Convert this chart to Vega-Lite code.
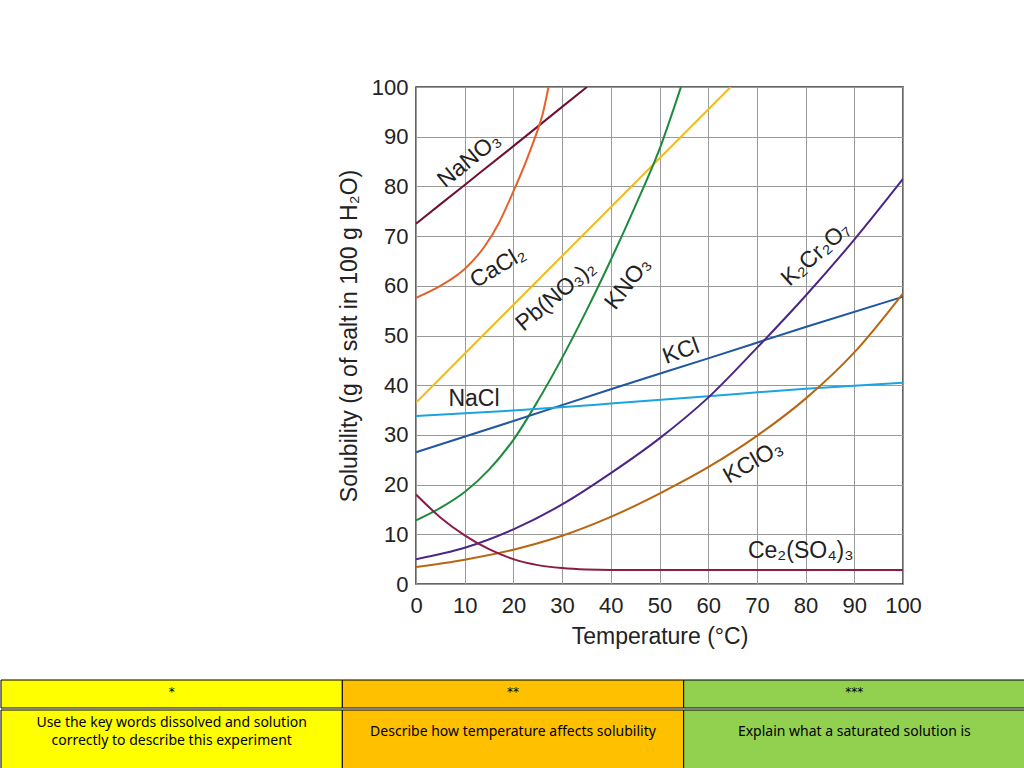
{
  "$schema": "https://vega.github.io/schema/vega-lite/v6.json",
  "background": "white",
  "padding": {"left": 0, "top": 75, "right": 0, "bottom": 0},
  "config": {"font": "Liberation Sans", "view": {"stroke": null}},
  "spacing": 30,
  "resolve": {"scale": {"color": "independent", "x": "independent", "y": "independent"}},
  "vconcat": [
    {
      "spacing": 0,
      "hconcat": [
        {
          "width": 336,
          "height": 10,
          "data": {"values": []},
          "mark": "point"
        },
        {
          "width": 487,
          "height": 497,
          "view": {"stroke": "#333", "strokeWidth": 1.5},
          "encoding": {
            "x": {
              "field": "t", "type": "quantitative",
              "scale": {"domain": [0, 100], "nice": false},
              "axis": {
                "values": [0, 10, 20, 30, 40, 50, 60, 70, 80, 90, 100],
                "grid": true, "gridColor": "#999", "gridWidth": 1,
                "ticks": false, "domain": false,
                "labelFontSize": 22, "labelColor": "#222", "labelPadding": 11,
                "labelFlush": false, "labelOverlap": false,
                "title": "Temperature (°C)", "titleFontSize": 23,
                "titleFontWeight": "normal", "titleColor": "#222", "titlePadding": 9
              }
            },
            "y": {
              "field": "v", "type": "quantitative",
              "scale": {"domain": [0, 100], "nice": false},
              "axis": {
                "values": [0, 10, 20, 30, 40, 50, 60, 70, 80, 90, 100],
                "grid": true, "gridColor": "#999", "gridWidth": 1,
                "ticks": false, "domain": false,
                "labelFontSize": 22, "labelColor": "#222", "labelPadding": 8,
                "labelFlush": false, "labelOverlap": false,
                "title": "Solubility (g of salt in 100 g H₂O)", "titleFontSize": 23,
                "titleFontWeight": "normal", "titleColor": "#222", "titlePadding": 10
              }
            }
          },
          "layer": [
            {
              "data": {"values": [
                {"s": "NaNO3", "t": 0, "v": 72.5}, {"s": "NaNO3", "t": 10, "v": 80.3}, {"s": "NaNO3", "t": 20, "v": 88.1}, {"s": "NaNO3", "t": 30, "v": 96.0}, {"s": "NaNO3", "t": 35.1, "v": 100},
                {"s": "CaCl2", "t": 0, "v": 57.6}, {"s": "CaCl2", "t": 5, "v": 60.0}, {"s": "CaCl2", "t": 10, "v": 63.4}, {"s": "CaCl2", "t": 14, "v": 67.8}, {"s": "CaCl2", "t": 17, "v": 72.6}, {"s": "CaCl2", "t": 20, "v": 79.0}, {"s": "CaCl2", "t": 22.5, "v": 84.8}, {"s": "CaCl2", "t": 24.5, "v": 90.0}, {"s": "CaCl2", "t": 26, "v": 94.5}, {"s": "CaCl2", "t": 27.2, "v": 100},
                {"s": "PbNO32", "t": 0, "v": 36.5}, {"s": "PbNO32", "t": 30, "v": 66.0}, {"s": "PbNO32", "t": 64.6, "v": 100},
                {"s": "KNO3", "t": 0, "v": 12.8}, {"s": "KNO3", "t": 5, "v": 15.3}, {"s": "KNO3", "t": 10, "v": 18.5}, {"s": "KNO3", "t": 15, "v": 23.0}, {"s": "KNO3", "t": 20, "v": 29.0}, {"s": "KNO3", "t": 25, "v": 36.8}, {"s": "KNO3", "t": 30, "v": 45.5}, {"s": "KNO3", "t": 35, "v": 55.0}, {"s": "KNO3", "t": 40, "v": 65.2}, {"s": "KNO3", "t": 45, "v": 76.0}, {"s": "KNO3", "t": 50, "v": 87.5}, {"s": "KNO3", "t": 54.4, "v": 100},
                {"s": "KCl", "t": 0, "v": 26.5}, {"s": "KCl", "t": 20, "v": 32.8}, {"s": "KCl", "t": 40, "v": 39.2}, {"s": "KCl", "t": 60, "v": 45.4}, {"s": "KCl", "t": 80, "v": 51.7}, {"s": "KCl", "t": 100, "v": 57.8},
                {"s": "NaCl", "t": 0, "v": 33.8}, {"s": "NaCl", "t": 20, "v": 34.9}, {"s": "NaCl", "t": 40, "v": 36.3}, {"s": "NaCl", "t": 60, "v": 37.8}, {"s": "NaCl", "t": 80, "v": 39.3}, {"s": "NaCl", "t": 100, "v": 40.5},
                {"s": "K2Cr2O7", "t": 0, "v": 5.0}, {"s": "K2Cr2O7", "t": 10, "v": 7.3}, {"s": "K2Cr2O7", "t": 20, "v": 11.0}, {"s": "K2Cr2O7", "t": 30, "v": 16.0}, {"s": "K2Cr2O7", "t": 40, "v": 22.3}, {"s": "K2Cr2O7", "t": 50, "v": 29.3}, {"s": "K2Cr2O7", "t": 60, "v": 37.5}, {"s": "K2Cr2O7", "t": 70, "v": 47.5}, {"s": "K2Cr2O7", "t": 80, "v": 58.0}, {"s": "K2Cr2O7", "t": 90, "v": 69.3}, {"s": "K2Cr2O7", "t": 100, "v": 81.5},
                {"s": "KClO3", "t": 0, "v": 3.4}, {"s": "KClO3", "t": 10, "v": 4.9}, {"s": "KClO3", "t": 20, "v": 6.9}, {"s": "KClO3", "t": 30, "v": 9.7}, {"s": "KClO3", "t": 40, "v": 13.5}, {"s": "KClO3", "t": 50, "v": 18.2}, {"s": "KClO3", "t": 60, "v": 23.5}, {"s": "KClO3", "t": 70, "v": 29.8}, {"s": "KClO3", "t": 80, "v": 37.3}, {"s": "KClO3", "t": 90, "v": 46.6}, {"s": "KClO3", "t": 100, "v": 58.5},
                {"s": "Ce2SO43", "t": 0, "v": 18.0}, {"s": "Ce2SO43", "t": 5, "v": 13.4}, {"s": "Ce2SO43", "t": 10, "v": 9.8}, {"s": "Ce2SO43", "t": 15, "v": 7.0}, {"s": "Ce2SO43", "t": 20, "v": 5.0}, {"s": "Ce2SO43", "t": 25, "v": 3.8}, {"s": "Ce2SO43", "t": 30, "v": 3.2}, {"s": "Ce2SO43", "t": 35, "v": 2.9}, {"s": "Ce2SO43", "t": 40, "v": 2.8}, {"s": "Ce2SO43", "t": 100, "v": 2.8}
              ]},
              "mark": {"type": "line", "interpolate": "monotone", "strokeWidth": 2, "clip": true},
              "encoding": {
                "color": {
                  "field": "s", "type": "nominal", "legend": null,
                  "scale": {
                    "domain": ["NaNO3", "CaCl2", "PbNO32", "KNO3", "KCl", "NaCl", "K2Cr2O7", "KClO3", "Ce2SO43"],
                    "range": ["#6e1030", "#e5602a", "#f0bb1e", "#1e8a3c", "#1f58a0", "#1ba3e2", "#4a2686", "#b8650f", "#8a1c48"]
                  }
                }
              }
            },
            {"data": {"values": [{"label": "NaNO₃", "t": 10.9, "v": 85.3}]}, "mark": {"type": "text", "angle": -39, "fontSize": 23, "color": "#222"}, "encoding": {"text": {"field": "label"}}},
            {"data": {"values": [{"label": "CaCl₂", "t": 16.8, "v": 63.8}]}, "mark": {"type": "text", "angle": -31, "fontSize": 23, "color": "#222"}, "encoding": {"text": {"field": "label"}}},
            {"data": {"values": [{"label": "Pb(NO₃)₂", "t": 28.7, "v": 58.0}]}, "mark": {"type": "text", "angle": -40, "fontSize": 23, "color": "#222"}, "encoding": {"text": {"field": "label"}}},
            {"data": {"values": [{"label": "KNO₃", "t": 43.5, "v": 60.5}]}, "mark": {"type": "text", "angle": -52, "fontSize": 23, "color": "#222"}, "encoding": {"text": {"field": "label"}}},
            {"data": {"values": [{"label": "K₂Cr₂O₇", "t": 82.1, "v": 66.4}]}, "mark": {"type": "text", "angle": -42, "fontSize": 23, "color": "#222"}, "encoding": {"text": {"field": "label"}}},
            {"data": {"values": [{"label": "KCl", "t": 54.4, "v": 46.8}]}, "mark": {"type": "text", "angle": -20, "fontSize": 23, "color": "#222"}, "encoding": {"text": {"field": "label"}}},
            {"data": {"values": [{"label": "NaCl", "t": 11.9, "v": 37.3}]}, "mark": {"type": "text", "angle": 0, "fontSize": 23, "color": "#222"}, "encoding": {"text": {"field": "label"}}},
            {"data": {"values": [{"label": "KClO₃", "t": 69.2, "v": 24.6}]}, "mark": {"type": "text", "angle": -30, "fontSize": 23, "color": "#222"}, "encoding": {"text": {"field": "label"}}},
            {"data": {"values": [{"label": "Ce₂(SO₄)₃", "t": 79.0, "v": 6.6}]}, "mark": {"type": "text", "angle": 0, "fontSize": 23, "color": "#222"}, "encoding": {"text": {"field": "label"}}}
          ]
        }
      ]
    },
    {
      "spacing": 0,
      "resolve": {"scale": {"color": "independent"}},
      "vconcat": [
        {
          "width": 1024,
          "height": 28,
          "data": {"values": [
            {"c": "a", "h": "*"},
            {"c": "b", "h": "**"},
            {"c": "c", "h": "***"}
          ]},
          "encoding": {
            "x": {"field": "c", "type": "nominal", "axis": null, "scale": {"paddingInner": 0, "paddingOuter": 0}}
          },
          "layer": [
            {
              "mark": {"type": "rect", "stroke": "black", "strokeWidth": 1},
              "encoding": {
                "color": {"field": "c", "type": "nominal", "legend": null, "scale": {"domain": ["a", "b", "c"], "range": ["#ffff00", "#ffc000", "#92d050"]}}
              }
            },
            {
              "mark": {"type": "text", "fontSize": 12, "color": "black", "font": "DejaVu Sans", "dy": -2},
              "encoding": {"text": {"field": "h"}}
            }
          ]
        },
        {
          "width": 1024,
          "height": 60,
          "data": {"values": [
            {"c": "a", "h": "Use the key words dissolved and solution\ncorrectly to describe this experiment"},
            {"c": "b", "h": "Describe how temperature affects solubility"},
            {"c": "c", "h": "Explain what a saturated solution is"}
          ]},
          "encoding": {
            "x": {"field": "c", "type": "nominal", "axis": null, "scale": {"paddingInner": 0, "paddingOuter": 0}}
          },
          "layer": [
            {
              "mark": {"type": "rect", "stroke": "black", "strokeWidth": 1},
              "encoding": {
                "color": {"field": "c", "type": "nominal", "legend": null, "scale": {"domain": ["a", "b", "c"], "range": ["#ffff00", "#ffc000", "#92d050"]}}
              }
            },
            {
              "transform": [{"filter": "datum.c != 'a'"}],
              "mark": {"type": "text", "fontSize": 14, "color": "black", "font": "Noto Sans", "dy": -8},
              "encoding": {"text": {"field": "h"}}
            },
            {
              "transform": [{"filter": "datum.c == 'a'"}],
              "mark": {"type": "text", "fontSize": 14, "color": "black", "font": "Noto Sans", "lineBreak": "\n", "lineHeight": 18, "dy": -17},
              "encoding": {"text": {"field": "h"}}
            }
          ]
        }
      ]
    }
  ]
}
